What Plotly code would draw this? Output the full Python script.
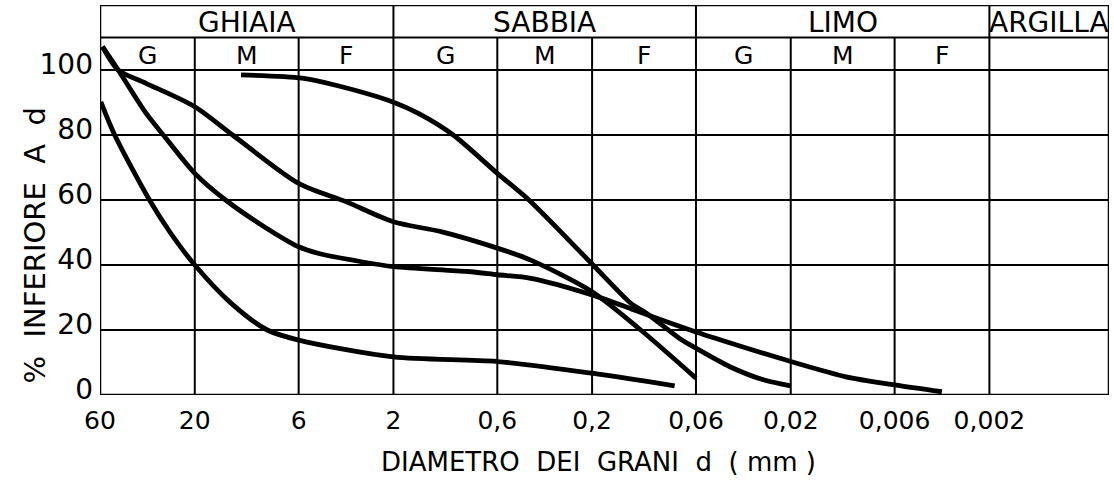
import numpy as np
import plotly.graph_objects as go

# grain diameter d (mm) and % finer than d
curve_a_d = [11.7, 5.77, 3.9, 2, 1.48, 1.0, 0.6, 0.416, 0.2, 0.127, 0.1057, 0.0726, 0.06, 0.0405, 0.0272, 0.02]
curve_a_p = [98.5, 97.5, 95.3, 90.1, 86.5, 80, 68.2, 60, 40.3, 28.1, 25, 17.4, 14.4, 8.7, 4.6, 2.8]

curve_b_d = [58.3, 48.6, 35.2, 28.8, 20, 14.0, 8.95, 6, 4.8, 2.9, 2, 0.847, 0.6, 0.407, 0.2, 0.127,
             0.0984, 0.06, 0.0332, 0.02, 0.01055, 0.006, 0.00347]
curve_b_p = [107.2, 100, 86.7, 80, 68.2, 60, 51.8, 45.6, 43.6, 41, 39.5, 38, 37, 35.9, 30.8, 26.5,
             24, 19.4, 14.4, 10.3, 5.6, 3.1, 1]

curve_c_d = [58.3, 48.6, 35.2, 20, 12.9, 6, 3.47, 2, 1.14, 0.6, 0.407, 0.2, 0.1138, 0.06]
curve_c_p = [107.2, 100, 95.9, 88.7, 80, 65.1, 59.5, 53.3, 50.2, 45.2, 41.5, 31.8, 20, 5.2]

curve_d_d = [59.4, 50.6, 33.8, 26.6, 20, 13.1, 8.63, 6, 2, 0.6, 0.2, 0.0768]
curve_d_p = [90.2, 80, 60, 50, 40, 28.2, 20, 16.9, 11.7, 10.3, 6.7, 2.8]

tick_vals = [60, 20, 6, 2, 0.6, 0.2, 0.06, 0.02, 0.006, 0.002]
tick_text = ['60', '20', '6', '2', '0,6', '0,2', '0,06', '0,02', '0,006', '0,002']
y_ticks = [0, 20, 40, 60, 80, 100]

classes = ['GHIAIA', 'SABBIA', 'LIMO', 'ARGILLA']
class_bounds = [60, 2, 0.06, 0.002, 0.0005]
sub_labels = ['G', 'M', 'F']

FONT = 'DejaVu Sans'
d_min, d_max = class_bounds[-1], class_bounds[0]
y_top = 120

fig = go.Figure()
for d, p in [(curve_a_d, curve_a_p), (curve_b_d, curve_b_p),
             (curve_c_d, curve_c_p), (curve_d_d, curve_d_p)]:
    fig.add_trace(go.Scatter(x=d, y=p, mode='lines',
                             line=dict(color='black', width=4.8, shape='spline', smoothing=0.8),
                             showlegend=False, hoverinfo='skip'))

shapes = []
line = dict(color='black', width=2)
# vertical grid: class boundaries go to the top, subdivisions stop under the class row
for v in tick_vals[1:]:
    top = y_top if v in class_bounds else 110
    shapes.append(dict(type='line', xref='x', yref='y', x0=v, x1=v, y0=0, y1=top, line=line))
shapes.append(dict(type='line', xref='x', yref='y', x0=d_max, x1=d_min, y0=110, y1=110, line=line))
shapes.append(dict(type='rect', xref='x', yref='y', x0=d_max, x1=d_min, y0=0, y1=y_top,
                   line=dict(color='black', width=2.5)))

annotations = []
for i, name in enumerate(classes):
    lo, hi = class_bounds[i], class_bounds[i + 1]
    xm = (np.log10(lo) + np.log10(hi)) / 2
    annotations.append(dict(x=xm, y=114.6, xref='x', yref='y', text=name, showarrow=False,
                            font=dict(family=FONT, size=28, color='black')))
    if name != 'ARGILLA':
        # three steps inside each class: G / M / F
        edges = [lo] + [v for v in tick_vals if hi < v < lo] + [hi]
        for j, lab in enumerate(sub_labels):
            xs = (np.log10(edges[j]) + np.log10(edges[j + 1])) / 2
            annotations.append(dict(x=xs, y=104.6, xref='x', yref='y', text=lab, showarrow=False,
                                    font=dict(family=FONT, size=25, color='black')))

annotations.append(dict(x=0.494, y=0, xref='paper', yref='paper', yshift=-67,
                        text='DIAMETRO  DEI  GRANI  d  ( mm )', showarrow=False,
                        xanchor='center', yanchor='middle',
                        font=dict(family=FONT, size=26, color='black')))
annotations.append(dict(x=0, y=46, xref='paper', yref='y', xshift=-66,
                        text='%  INFERIORE  A  d', textangle=-90, showarrow=False,
                        xanchor='center', yanchor='middle',
                        font=dict(family=FONT, size=29, color='black')))

fig.update_layout(
    width=1114, height=492,
    margin=dict(l=100, r=5, t=5, b=97),
    paper_bgcolor='white', plot_bgcolor='white',
    shapes=shapes, annotations=annotations,
    xaxis=dict(type='log', range=[np.log10(d_max), np.log10(d_min)], automargin=False,
               tickvals=tick_vals, ticktext=tick_text, showgrid=False, zeroline=False,
               ticks='', showline=False, ticklabelstandoff=8,
               tickfont=dict(family=FONT, size=25, color='black')),
    yaxis=dict(range=[0, y_top], tickvals=y_ticks, showgrid=True, gridcolor='black',
               gridwidth=2, zeroline=False, ticks='', showline=False, automargin=False,
               ticklabelstandoff=6, ticklabelshift=-6,
               tickfont=dict(family=FONT, size=28, color='black')),
)

# the page's default body margin would push the figure 8px off the window corner
fig.write_html("out.html", config={'displayModeBar': False},
               post_script="document.body.style.margin='0';")
